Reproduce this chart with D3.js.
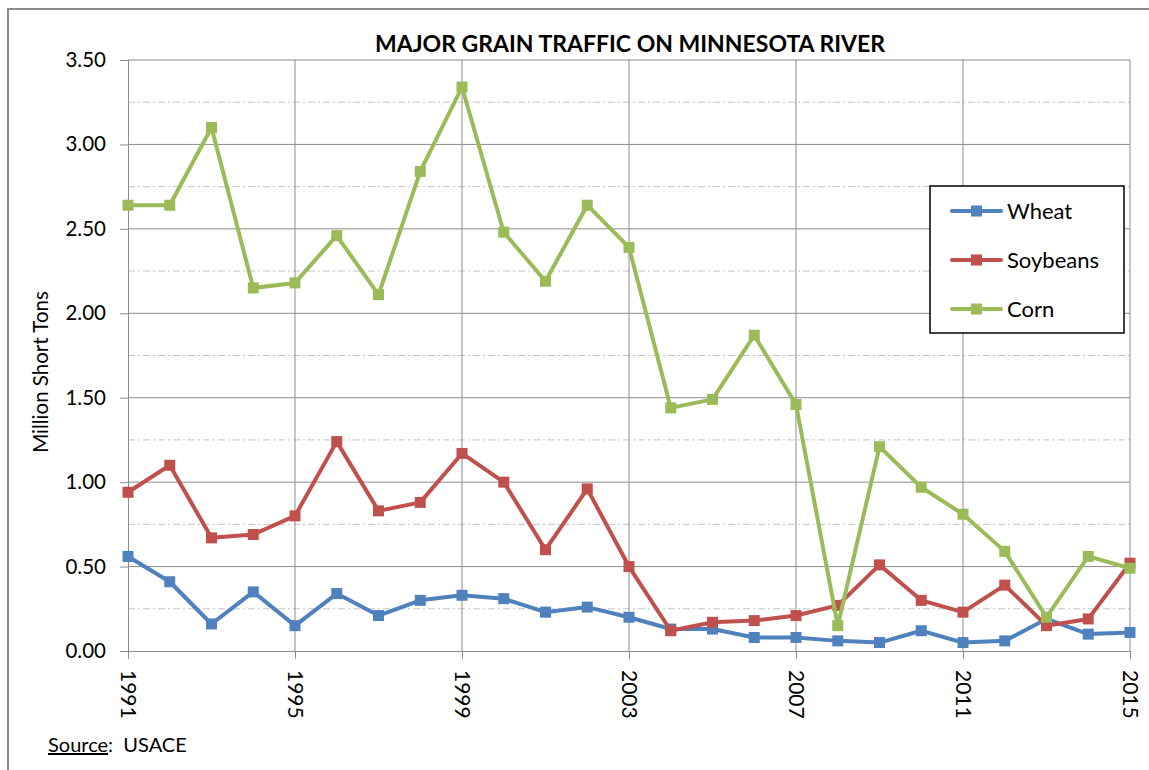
<!DOCTYPE html>
<html lang="en">
  <head>
    <title>Major grain traffic on Minnesota River</title>
    <style>
      body { margin: 0; background: #fff; }
      text { font-family: Lato, "Open Sans", sans-serif; fill: #000; }
    </style>
  </head>
  <body>
    <div id="viz"></div>
    <script src="https://unpkg.com/d3@7/dist/d3.min.js"></script>
    <script>
      const years = d3.range(1991, 2016)
      const wheat = [0.56, 0.41, 0.16, 0.35, 0.15, 0.34, 0.21, 0.30, 0.33, 0.31, 0.23, 0.26, 0.20, 0.13, 0.13, 0.08, 0.08, 0.06, 0.05, 0.12, 0.05, 0.06, 0.19, 0.10, 0.11]
      const soybeans = [0.94, 1.10, 0.67, 0.69, 0.80, 1.24, 0.83, 0.88, 1.17, 1.00, 0.60, 0.96, 0.50, 0.12, 0.17, 0.18, 0.21, 0.27, 0.51, 0.30, 0.23, 0.39, 0.15, 0.19, 0.52]
      const corn = [2.64, 2.64, 3.10, 2.15, 2.18, 2.46, 2.11, 2.84, 3.34, 2.48, 2.19, 2.64, 2.39, 1.44, 1.49, 1.87, 1.46, 0.15, 1.21, 0.97, 0.81, 0.59, 0.20, 0.56, 0.49]
      const seriesNames = ['Wheat', 'Soybeans', 'Corn']
      const seriesColors = ['#4f81bd', '#c0504d', '#9bbb59']
      const yTicks = [0, 0.5, 1, 1.5, 2, 2.5, 3, 3.5]
      const yMinor = [0.25, 0.75, 1.25, 1.75, 2.25, 2.75, 3.25]
      const xTicks = [1991, 1995, 1999, 2003, 2007, 2011, 2015]

      const width = 1149
      const height = 770
      const svg = d3.select('#viz').append('svg').attr('width', width).attr('height', height)

      // outer chart frame (runs off the right and bottom edges)
      svg.append('rect')
        .attr('x', 8).attr('y', 9).attr('width', 1170).attr('height', 800)
        .attr('fill', '#fff').attr('stroke', '#8c8c8c').attr('stroke-width', 2)

      const x = d3.scaleLinear().domain([1991, 2015]).range([128, 1130])
      const y = d3.scaleLinear().domain([0, 3.5]).range([651, 60])

      // minor dash-dot gridlines
      svg.append('g').selectAll('line')
        .data(yMinor)
        .enter()
          .append('line')
            .attr('x1', x(1991)).attr('x2', x(2015))
            .attr('y1', d => y(d)).attr('y2', d => y(d))
            .attr('stroke', '#c4c4c4').attr('stroke-width', 1)
            .attr('stroke-dasharray', '7,3,2,3')

      // major gridlines
      svg.append('g').selectAll('line')
        .data(yTicks.slice(1))
        .enter()
          .append('line')
            .attr('x1', x(1991)).attr('x2', x(2015))
            .attr('y1', d => y(d)).attr('y2', d => y(d))
            .attr('stroke', '#8c8c8c').attr('stroke-width', 1)

      svg.append('g').selectAll('line')
        .data(xTicks.slice(1))
        .enter()
          .append('line')
            .attr('x1', d => x(d)).attr('x2', d => x(d))
            .attr('y1', y(0)).attr('y2', y(3.5))
            .attr('stroke', '#8c8c8c').attr('stroke-width', 1)

      // y axis
      const yAxis = svg.append('g')
        .attr('transform', `translate(${x(1991)},0)`)
        .call(d3.axisLeft(y).tickValues(yTicks).tickFormat(d3.format('.2f')).tickSize(8).tickPadding(14))
      yAxis.select('.domain').attr('stroke', '#8c8c8c')
      yAxis.selectAll('.tick line').attr('stroke', '#8c8c8c')
      yAxis.selectAll('.tick text').attr('font-size', 20.5).attr('fill', '#000')
        .style('font-family', 'Lato, sans-serif')

      // x axis
      const xAxis = svg.append('g')
        .attr('transform', `translate(0,${y(0)})`)
        .call(d3.axisBottom(x).tickValues(xTicks).tickFormat(d3.format('d')).tickSize(8))
      xAxis.select('.domain').attr('stroke', '#8c8c8c')
      xAxis.selectAll('.tick line').attr('stroke', '#8c8c8c')
      xAxis.selectAll('.tick text')
        .attr('font-size', 21).attr('fill', '#000')
        .style('font-family', 'Lato, sans-serif')
        .attr('text-anchor', 'start')
        .attr('dy', '0.35em')
        .attr('y', 0)
        .attr('transform', 'translate(0,19) rotate(90)')

      // lines and markers
      const allSeries = [wheat, soybeans, corn]
      const line = d3.line().x((d, i) => x(years[i])).y(d => y(d))

      allSeries.forEach((values, k) => {
        svg.append('path')
          .datum(values)
          .attr('d', line)
          .attr('fill', 'none')
          .attr('stroke', seriesColors[k])
          .attr('stroke-width', 4)
          .attr('stroke-linejoin', 'round')
        svg.append('g').selectAll('rect')
          .data(values)
          .enter()
            .append('rect')
              .attr('x', (d, i) => x(years[i]) - 5.5)
              .attr('y', d => y(d) - 5.5)
              .attr('width', 11).attr('height', 11)
              .attr('fill', seriesColors[k])
      })

      // title
      svg.append('text')
        .attr('x', 630).attr('y', 52)
        .attr('text-anchor', 'middle')
        .attr('font-size', 23).attr('font-weight', 'bold')
        .text('MAJOR GRAIN TRAFFIC ON MINNESOTA RIVER')

      // y axis title
      svg.append('text')
        .attr('transform', 'translate(48,372) rotate(-90)')
        .attr('text-anchor', 'middle')
        .attr('font-size', 20.5)
        .text('Million Short Tons')

      // legend
      const legend = svg.append('g')
      legend.append('rect')
        .attr('x', 930).attr('y', 186).attr('width', 194).attr('height', 147)
        .attr('fill', '#fff').attr('stroke', '#000').attr('stroke-width', 1.5)
      const legendY = d3.scalePoint().domain(seriesNames).range([211, 309])
      seriesNames.forEach((name, k) => {
        const ly = legendY(name)
        legend.append('line')
          .attr('x1', 952).attr('x2', 1001).attr('y1', ly).attr('y2', ly)
          .attr('stroke', seriesColors[k]).attr('stroke-width', 4).attr('stroke-linecap', 'round')
        legend.append('rect')
          .attr('x', 971).attr('y', ly - 5.5).attr('width', 11).attr('height', 11)
          .attr('fill', seriesColors[k])
        legend.append('text')
          .attr('x', 1007).attr('y', ly + 8)
          .attr('font-size', 22)
          .text(name)
      })

      // source note
      const src = svg.append('text').attr('x', 48).attr('y', 752).attr('font-size', 20)
      src.append('tspan').attr('text-decoration', 'underline').text('Source')
      src.append('tspan').attr('xml:space', 'preserve').text(':  USACE')
    </script>
  </body>
</html>
